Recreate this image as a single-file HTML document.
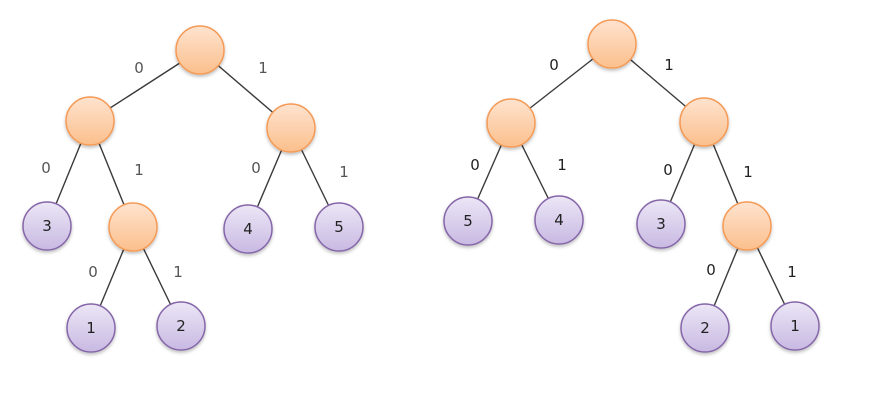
<!DOCTYPE html>
<html><head><meta charset="utf-8"><style>
html,body{margin:0;padding:0;background:#fff;width:896px;height:412px;overflow:hidden}
svg{display:block}
text{font-family:"DejaVu Sans","Liberation Sans",sans-serif;font-size:15px}
</style></head><body>
<svg width="896" height="412" viewBox="0 0 896 412">
<defs>
<linearGradient id="o" x1="0" y1="0" x2="0" y2="1"><stop offset="0" stop-color="#fee3cf"/><stop offset="1" stop-color="#fbbf8c"/></linearGradient>
<linearGradient id="p" x1="0" y1="0" x2="0" y2="1"><stop offset="0" stop-color="#ece6f6"/><stop offset="1" stop-color="#c8b9e2"/></linearGradient>
<filter id="s" x="-30%" y="-30%" width="160%" height="160%"><feDropShadow dx="0" dy="2" stdDeviation="1.5" flood-color="#000" flood-opacity="0.25"/></filter>
</defs>
<g stroke="#3a3a3a" stroke-width="1.4">
<line x1="200" y1="50" x2="90" y2="121"/><line x1="200" y1="50" x2="291" y2="128"/>
<line x1="90" y1="121" x2="47" y2="226"/><line x1="90" y1="121" x2="133" y2="227"/>
<line x1="291" y1="128" x2="248" y2="229"/><line x1="291" y1="128" x2="339" y2="227"/>
<line x1="133" y1="227" x2="91" y2="328"/><line x1="133" y1="227" x2="181" y2="326"/>
<line x1="612" y1="44" x2="511" y2="123"/><line x1="612" y1="44" x2="704" y2="122"/>
<line x1="511" y1="123" x2="468" y2="221"/><line x1="511" y1="123" x2="559" y2="220"/>
<line x1="704" y1="122" x2="661" y2="224"/><line x1="704" y1="122" x2="747" y2="226"/>
<line x1="747" y1="226" x2="705" y2="328"/><line x1="747" y1="226" x2="795" y2="326"/>
</g>
<g filter="url(#s)" stroke-width="1.5">
<g fill="url(#o)" stroke="#f59a55">
<circle cx="200" cy="50" r="24"/><circle cx="90" cy="121" r="24"/><circle cx="291" cy="128" r="24"/><circle cx="133" cy="227" r="24"/>
<circle cx="612" cy="44" r="24"/><circle cx="511" cy="123" r="24"/><circle cx="704" cy="122" r="24"/><circle cx="747" cy="226" r="24"/>
</g>
<g fill="url(#p)" stroke="#8566a8">
<circle cx="47" cy="226" r="24"/><circle cx="248" cy="229" r="24"/><circle cx="339" cy="227" r="24"/><circle cx="91" cy="328" r="24"/><circle cx="181" cy="326" r="24"/>
<circle cx="468" cy="221" r="24"/><circle cx="559" cy="220" r="24"/><circle cx="661" cy="224" r="24"/><circle cx="705" cy="328" r="24"/><circle cx="795" cy="326" r="24"/>
</g>
</g>
<g fill="#222" text-anchor="middle">
<text x="47" y="231">3</text><text x="248" y="234">4</text><text x="339" y="232">5</text><text x="91" y="333">1</text><text x="181" y="331">2</text>
<text x="468" y="226">5</text><text x="559" y="225">4</text><text x="661" y="229">3</text><text x="705" y="333">2</text><text x="795" y="331">1</text>
</g>
<g fill="#555" text-anchor="middle">
<text x="139" y="73">0</text><text x="263" y="73">1</text><text x="46" y="173">0</text><text x="139" y="175">1</text>
<text x="256" y="173">0</text><text x="344" y="177">1</text><text x="93" y="277">0</text><text x="178" y="277">1</text>
</g>
<g fill="#222" text-anchor="middle">
<text x="554" y="70">0</text><text x="669" y="70">1</text><text x="475" y="170">0</text><text x="562" y="170">1</text>
<text x="668" y="175">0</text><text x="748" y="177">1</text><text x="711" y="275">0</text><text x="792" y="277">1</text>
</g>
</svg>
</body></html>
